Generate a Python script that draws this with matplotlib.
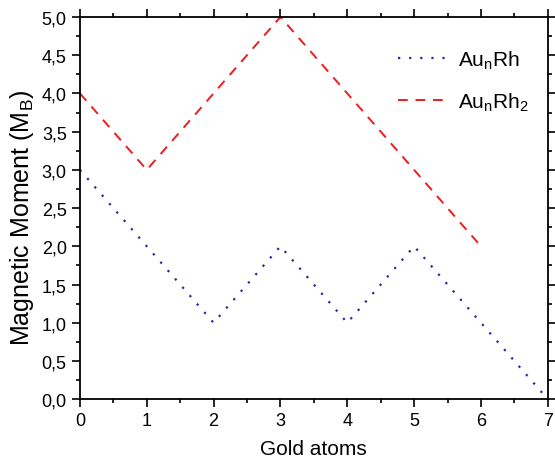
#!/usr/bin/env python3

import numpy as np
from matplotlib import pyplot as plt
from matplotlib.ticker import MultipleLocator, FuncFormatter

GOLD_ATOMS_RH = [0, 1, 2, 3, 4, 5, 6, 7]
MOMENT_RH = [3, 2, 1, 2, 1, 2, 1, 0]

GOLD_ATOMS_RH2 = [0, 1, 2, 3, 4, 5, 6]
MOMENT_RH2 = [4, 3, 4, 5, 4, 3, 2]

plt.rcParams['font.family'] = ['Liberation Sans', 'DejaVu Sans']
plt.rcParams['mathtext.fontset'] = 'custom'
plt.rcParams['mathtext.rm'] = 'Liberation Sans'


def main():
  fig = plt.figure(figsize=(5.55, 4.6), dpi=100)
  ax = fig.add_axes([0.144, 0.130, 0.843, 0.831])

  ax.plot(GOLD_ATOMS_RH, MOMENT_RH, color='#2a2a9a', linestyle=(0, (1, 4)),
          linewidth=1.6, label='Au$_\\mathregular{n}$Rh')
  ax.plot(GOLD_ATOMS_RH2, MOMENT_RH2, color='#ee1c1c', linestyle=(0, (5, 4)),
          linewidth=1.4, label='Au$_\\mathregular{n}$Rh$_\\mathregular{2}$')

  ax.set_xlim(0, 7)
  ax.set_ylim(0, 5)
  ax.xaxis.set_major_locator(MultipleLocator(1))
  ax.xaxis.set_minor_locator(MultipleLocator(0.5))
  ax.yaxis.set_major_locator(MultipleLocator(0.5))
  ax.yaxis.set_minor_locator(MultipleLocator(0.25))
  ax.yaxis.set_major_formatter(FuncFormatter(lambda v, p: f'{v:.1f}'.replace('.', ',')))

  ax.tick_params(which='both', direction='out', top=True, right=True,
                 labeltop=False, labelright=False, width=1.2)
  ax.tick_params(which='major', length=6, labelsize=13)
  ax.tick_params(which='minor', length=3)
  for sp in ax.spines.values():
    sp.set_linewidth(1.3)

  ax.set_xlabel('Gold atoms', fontsize=15, labelpad=7)
  ax.set_ylabel('Magnetic Moment (M$_\\mathregular{B}$)', fontsize=18, labelpad=4)
  ax.yaxis.label.set_y(0.478)

  ax.legend(loc='upper right', frameon=False, fontsize=15, handlelength=2.3,
            handletextpad=0.6, labelspacing=0.9, bbox_to_anchor=(1.0, 0.966))

  fig.savefig('out.png', dpi=100)

if __name__ == "__main__":
  main()
